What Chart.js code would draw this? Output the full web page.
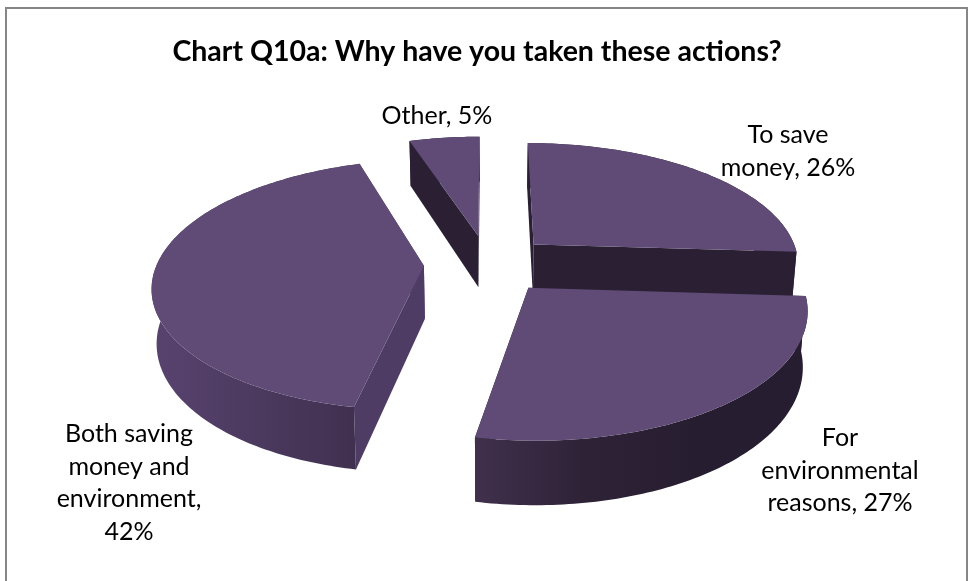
<!DOCTYPE html>
<html>
<head>
<meta charset="utf-8">
<title>Chart Q10a</title>
<style>
  html, body { margin: 0; padding: 0; background: #fff; overflow: hidden; }
  canvas { display: block; }
</style>
<script src="https://cdn.jsdelivr.net/npm/chart.js@4"></script>
</head>
<body>
<canvas id="chart" width="968" height="581"></canvas>
<script>
// Survey answers, in percent, clockwise from twelve o'clock
const categories = ['To save money', 'For environmental reasons', 'Both saving money and environment', 'Other'];
const shares = [26, 27, 42, 5];
const chartTitle = 'Chart Q10a: Why have you taken these actions?';

// Words per line in each slice label
const labelWordCounts = [[2, 2], [1, 1, 2], [2, 2, 1, 1], [2]];

// Label centres and line spacing
const labelCentres = [[788, 135], [840, 438], [129, 434], [437, 116]];
const labelLineHeight = 32.6;

// Pie styling
const topColor = '#5f4b76';
const wallGradients = [
  ['#2a1f33', '#2a1f33'],
  ['#40304c', '#2e2237', '#271d30', '#271d30'],
  ['#58436f', '#40304f'],
  ['#2a1f33', '#2a1f33']
];
const cutWallColors = ['#2a1f33', '#2a1f33', '#4e3c65', '#2a1f33'];

// Oblique view of the pie: screen centre, disc scale, foreshortening, thickness
const view = { cx: 488, cy: 264, sx: 267, sy: 122, k: 0.15, depth: 53, shrink: 0.015 };

function project(u, v, z) {
  const p = 1 + view.k * v;
  return {
    x: view.cx + view.sx * u / p * (1 - z * view.shrink),
    y: view.cy - view.sy * v / p + z * view.depth / p
  };
}

// Outline of one arc element in disc units, taken from the element's own angles and offset
function discOutline(arc) {
  const r = arc.outerRadius;
  const mid = (arc.startAngle + arc.endAngle) / 2;
  const off = arc.options.offset / r;
  const ox = Math.cos(mid) * off, oy = Math.sin(mid) * off;
  const steps = Math.max(4, Math.ceil((arc.endAngle - arc.startAngle) * 180 / Math.PI));
  const rim = [];
  for (let i = 0; i <= steps; i++) {
    const a = arc.startAngle + (arc.endAngle - arc.startAngle) * i / steps;
    rim.push([ox + Math.cos(a), -(oy + Math.sin(a))]);
  }
  return { apex: [ox, -oy], rim };
}

function tracePath(ctx, points) {
  ctx.beginPath();
  points.forEach((p, i) => i ? ctx.lineTo(p.x, p.y) : ctx.moveTo(p.x, p.y));
  ctx.closePath();
}

function fillPath(ctx, points, fill) {
  tracePath(ctx, points);
  ctx.fillStyle = fill;
  ctx.fill();
}

function cutWall(ctx, a, b, color) {
  fillPath(ctx, [project(a[0], a[1], 0), project(b[0], b[1], 0), project(b[0], b[1], 1), project(a[0], a[1], 1)], color);
}

const pie3d = {
  id: 'pie3d',
  beforeDraw(chart) {
    const { ctx, width, height } = chart;
    ctx.save();
    ctx.fillStyle = '#fff';
    ctx.fillRect(0, 0, width, height);
    ctx.strokeStyle = '#868686';
    ctx.lineWidth = 2;
    ctx.strokeRect(6, 8, 961, height + 20);
    ctx.restore();
  },
  beforeDatasetDraw(chart, args) {
    const { ctx } = chart;
    const arcs = args.meta.data.map((arc, index) => ({ index, shape: discOutline(arc) }));
    arcs.sort((a, b) => b.shape.apex[1] - a.shape.apex[1]);
    ctx.save();
    arcs.forEach(({ index, shape }) => {
      const { apex, rim } = shape;
      cutWall(ctx, apex, rim[0], cutWallColors[index]);
      cutWall(ctx, apex, rim[rim.length - 1], cutWallColors[index]);

      const upper = rim.map(p => project(p[0], p[1], 0));
      const lower = rim.map(p => project(p[0], p[1], 1));
      const xs = upper.map(p => p.x);
      const grad = ctx.createLinearGradient(Math.min(...xs), 0, Math.max(...xs), 0);
      const stops = wallGradients[index];
      stops.forEach((c, i) => grad.addColorStop(i / (stops.length - 1), c));
      fillPath(ctx, upper.concat(lower.slice().reverse()), grad);

      fillPath(ctx, [project(apex[0], apex[1], 0)].concat(upper), topColor);
    });
    ctx.restore();
    return false;
  },
  afterDraw(chart) {
    const { ctx } = chart;
    ctx.save();
    ctx.font = '25px Lato';
    ctx.fillStyle = '#000';
    ctx.textAlign = 'center';
    ctx.textBaseline = 'middle';
    categories.forEach((cat, i) => {
      const words = `${cat}, ${shares[i]}%`.split(' ');
      let used = 0;
      labelWordCounts[i].forEach((count, line) => {
        const text = words.slice(used, used + count).join(' ');
        used += count;
        ctx.fillText(text, labelCentres[i][0], labelCentres[i][1] + line * labelLineHeight);
      });
    });
    ctx.restore();
  }
};

new Chart(document.getElementById('chart'), {
  type: 'pie',
  plugins: [pie3d],
  data: {
    labels: categories,
    datasets: [{ data: shares, backgroundColor: topColor, borderWidth: 0, offset: 48 }]
  },
  options: {
    responsive: false,
    animation: false,
    radius: 200,
    layout: { padding: { right: 14 } },
    plugins: {
      legend: { display: false },
      tooltip: { enabled: false },
      title: {
        display: true,
        text: chartTitle,
        color: '#000',
        font: { family: 'Lato', size: 28.5, weight: 'bold' },
        padding: { top: 35, bottom: 10 }
      }
    }
  }
});
</script>
</body>
</html>
